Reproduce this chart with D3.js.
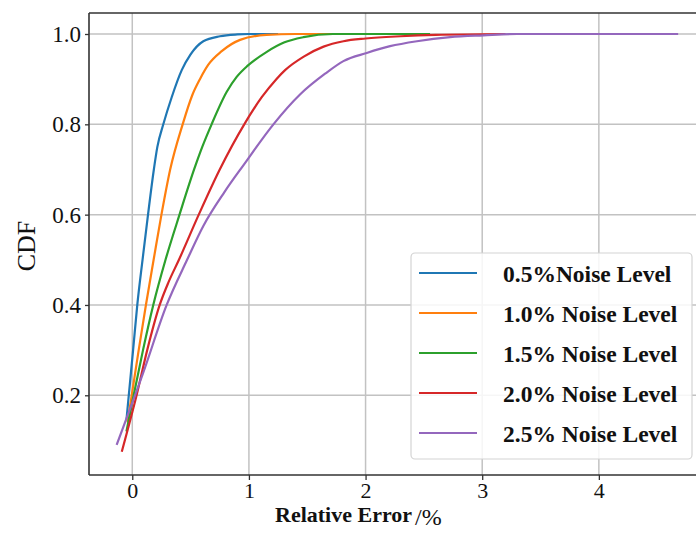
<!DOCTYPE html>
<html>
<head>
<meta charset="utf-8">
<script src="https://cdn.jsdelivr.net/npm/d3@7"></script>
<style>
  html, body { margin: 0; padding: 0; background: #fff; }
  svg { display: block; }
</style>
</head>
<body>
<svg id="chart" width="696" height="535"></svg>
<script>
// CDF of relative error (%) for five noise levels; points are [error %, CDF]
const seriesNames = ["0.5%Noise Level", "1.0% Noise Level", "1.5% Noise Level", "2.0% Noise Level", "2.5% Noise Level"];
const seriesColors = ["#1f77b4", "#ff7f0e", "#2ca02c", "#d62728", "#9467bd"];

const noise05 = [[-0.05,0.145],[-0.03,0.2],[0.007,0.3],[0.043,0.4],[0.088,0.5],[0.135,0.6],[0.185,0.7],[0.215,0.75],[0.266,0.8],[0.338,0.86],[0.424,0.92],[0.5,0.955],[0.609,0.984],[0.752,0.995],[0.9,0.999],[1.0,1.0],[1.25,1.0]];
const noise10 = [[-0.04,0.14],[-0.005,0.2],[0.055,0.3],[0.117,0.4],[0.183,0.5],[0.25,0.6],[0.325,0.7],[0.432,0.8],[0.515,0.865],[0.58,0.9],[0.652,0.932],[0.767,0.962],[0.924,0.987],[1.15,0.998],[1.4,1.0],[1.9,1.0]];
const noise15 = [[-0.05,0.12],[0.012,0.2],[0.092,0.3],[0.18,0.4],[0.285,0.5],[0.405,0.6],[0.53,0.7],[0.6,0.75],[0.68,0.8],[0.81,0.872],[0.895,0.905],[0.99,0.93],[1.15,0.96],[1.3,0.981],[1.467,0.993],[1.72,1.0],[2.553,1.0]];
const noise20 = [[-0.09,0.075],[0.037,0.2],[0.128,0.3],[0.235,0.4],[0.31,0.45],[0.4,0.5],[0.57,0.6],[0.75,0.7],[0.96,0.8],[1.11,0.86],[1.235,0.9],[1.31,0.92],[1.47,0.95],[1.64,0.972],[1.81,0.984],[2.0,0.99],[2.3,0.995],[2.6,0.998],[3.2,1.0]];
const noise25 = [[-0.134,0.09],[0.094,0.25],[0.295,0.4],[0.47,0.5],[0.609,0.575],[0.79,0.65],[0.96,0.712],[1.21,0.8],[1.438,0.866],[1.653,0.912],[1.81,0.94],[2.01,0.958],[2.21,0.973],[2.44,0.984],[2.725,0.993],[3.01,0.997],[3.3,1.0],[4.68,1.0]];
const seriesData = [noise05, noise10, noise15, noise20, noise25];

const xTicks = [0, 1, 2, 3, 4];
const yTicks = [0.2, 0.4, 0.6, 0.8, 1.0];

const svg = d3.select("#chart");
const plot = { left: 89, right: 705, top: 13, bottom: 475 };

const x = d3.scaleLinear().domain([-0.371, 4.91]).range([plot.left, plot.right]);
const y = d3.scaleLinear().domain([0.0235, 1.0465]).range([plot.bottom, plot.top]);

const serif = "'Liberation Serif', 'Times New Roman', serif";

// grid
const grid = svg.append("g").attr("stroke", "#c2c2c2").attr("stroke-width", 1.5);
grid.selectAll(".gx").data(xTicks).join("line")
  .attr("x1", d => x(d)).attr("x2", d => x(d))
  .attr("y1", plot.top).attr("y2", plot.bottom);
grid.selectAll(".gy").data(yTicks).join("line")
  .attr("x1", plot.left).attr("x2", plot.right)
  .attr("y1", d => y(d)).attr("y2", d => y(d));

// curves
const line = d3.line().curve(d3.curveMonotoneX).x(d => x(d[0])).y(d => y(d[1]));
svg.append("g").selectAll("path").data(seriesData).join("path")
  .attr("d", line)
  .attr("fill", "none")
  .attr("stroke", (d, i) => seriesColors[i])
  .attr("stroke-width", 2.2)
  .attr("stroke-linejoin", "round");

// axes
const xAxis = svg.append("g").attr("transform", `translate(0,${plot.bottom})`)
  .call(d3.axisBottom(x).tickValues(xTicks).tickFormat(d3.format("d")).tickSize(5).tickPadding(2));
const yAxis = svg.append("g").attr("transform", `translate(${plot.left},0)`)
  .call(d3.axisLeft(y).tickValues(yTicks).tickFormat(d3.format(".1f")).tickSize(4).tickPadding(4));
[xAxis, yAxis].forEach(a => {
  a.select(".domain").remove();
  a.selectAll(".tick line").attr("stroke", "#333").attr("stroke-width", 1.3);
  a.selectAll(".tick text").attr("font-family", serif).attr("font-size", 23).attr("fill", "#111");
});
xAxis.selectAll(".tick text").attr("font-size", 22);

// spines
const spines = svg.append("g").attr("stroke", "#333").attr("stroke-width", 1.6).attr("fill", "none");
spines.append("line").attr("x1", plot.left).attr("x2", plot.left).attr("y1", plot.top).attr("y2", plot.bottom);
spines.append("line").attr("x1", plot.left).attr("x2", plot.right).attr("y1", plot.bottom).attr("y2", plot.bottom);
spines.append("line").attr("x1", plot.left).attr("x2", plot.right).attr("y1", plot.top).attr("y2", plot.top);

// axis titles
const xt = svg.append("text").attr("x", 275).attr("y", 522)
  .attr("font-family", serif).attr("fill", "#111");
xt.append("tspan").attr("font-weight", "bold").attr("font-size", 22).text("Relative Error");
xt.append("tspan").attr("font-size", 24).attr("dy", 3).attr("dx", 3).text("/%");

svg.append("text")
  .attr("transform", "translate(35,246) rotate(-90)")
  .attr("text-anchor", "middle")
  .attr("font-family", serif).attr("font-size", 26).attr("fill", "#111")
  .text("CDF");

// legend
const legend = svg.append("g");
legend.append("rect")
  .attr("x", 411).attr("y", 253).attr("width", 281).attr("height", 206).attr("rx", 4)
  .attr("fill", "rgba(255,255,255,0.85)").attr("stroke", "#d4d4d4").attr("stroke-width", 1.2);
const rows = legend.selectAll(".row").data(seriesNames).join("g")
  .attr("transform", (d, i) => `translate(0,${273 + 40 * i})`);
rows.append("line").attr("x1", 419).attr("x2", 477).attr("y1", 0).attr("y2", 0)
  .attr("stroke", (d, i) => seriesColors[i]).attr("stroke-width", 2.2);
rows.append("text").attr("x", 503).attr("y", 9)
  .attr("font-family", serif).attr("font-weight", "bold").attr("font-size", 23.5).attr("fill", "#111")
  .text(d => d);
</script>
</body>
</html>
